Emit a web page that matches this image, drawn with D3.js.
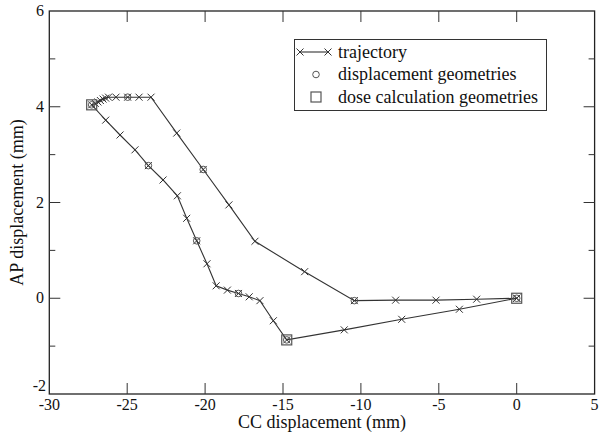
<!DOCTYPE html>
<html>
<head>
<meta charset="utf-8">
<script src="https://cdn.jsdelivr.net/npm/d3@7"></script>
<style>
  body { margin: 0; background: #fff; }
  svg text { font-family: "Liberation Serif", "Times New Roman", Times, "DejaVu Serif", serif; }
</style>
</head>
<body>
<svg id="chart" width="599" height="432"></svg>
<script>
// trajectory (CC, AP) in mm, closed loop starting at origin
const trajCC = [0, -3.68, -7.38, -11.07, -14.76, -15.62, -16.48, -17.17, -17.86, -18.57, -19.29,
  -19.88, -20.54, -21.18, -21.78, -22.70, -23.64, -24.50, -25.46, -26.38, -27.28,
  -27.05, -26.88, -26.72, -26.55, -26.38, -26.20, -25.72, -24.97, -24.24, -23.47,
  -21.82, -20.12, -18.47, -16.80, -13.61, -10.42, -7.77, -5.18, -2.57, 0];
const trajAP = [0, -0.23, -0.44, -0.66, -0.87, -0.47, -0.05, 0.03, 0.10, 0.17, 0.26,
  0.72, 1.20, 1.67, 2.14, 2.47, 2.77, 3.10, 3.41, 3.72, 4.04,
  4.07, 4.10, 4.13, 4.16, 4.18, 4.20, 4.20, 4.20, 4.20, 4.20,
  3.45, 2.69, 1.95, 1.19, 0.555, -0.05, -0.04, -0.04, -0.02, 0];

// displacement geometries (circles)
const dispCC = [0, -10.42, -14.76, -17.86, -20.54, -23.64, -27.28, -24.97, -20.12];
const dispAP = [0, -0.05, -0.87, 0.10, 1.20, 2.77, 4.04, 4.20, 2.69];

// dose calculation geometries (squares)
const doseCC = [0, -14.76, -27.28];
const doseAP = [0, -0.87, 4.04];

const xTicks = [-30, -25, -20, -15, -10, -5, 0, 5];
const yTicks = [-2, 0, 2, 4, 6];
const yMinor = [-1, 1, 3, 5];
const legendLabels = ["trajectory", "displacement geometries", "dose calculation geometries"];

const svg = d3.select("#chart");
const ink = "#333";
const serif = "'Liberation Serif', 'Times New Roman', Times, 'DejaVu Serif', serif";

const x = d3.scaleLinear().domain([-30, 5]).range([49.3, 594.6]);
const y = d3.scaleLinear().domain([-2, 6]).range([394, 11]);

const pLeft = x(-30), pRight = x(5), pTop = y(6), pBottom = y(-2);

// frame
svg.append("rect")
  .attr("x", pLeft).attr("y", pTop)
  .attr("width", pRight - pLeft).attr("height", pBottom - pTop)
  .attr("fill", "none").attr("stroke", "#222").attr("stroke-width", 1.3);

// ticks, pointing inward on all four sides
const tickG = svg.append("g").attr("stroke", "#333").attr("stroke-width", 1);
xTicks.slice(1, -1).forEach(v => {
  tickG.append("line").attr("x1", x(v)).attr("x2", x(v)).attr("y1", pBottom).attr("y2", pBottom - 11);
  tickG.append("line").attr("x1", x(v)).attr("x2", x(v)).attr("y1", pTop).attr("y2", pTop + 11);
});
yTicks.slice(1, -1).forEach(v => {
  tickG.append("line").attr("y1", y(v)).attr("y2", y(v)).attr("x1", pLeft).attr("x2", pLeft + 11);
  tickG.append("line").attr("y1", y(v)).attr("y2", y(v)).attr("x1", pRight).attr("x2", pRight - 11);
});
yMinor.forEach(v => {
  tickG.append("line").attr("y1", y(v)).attr("y2", y(v)).attr("x1", pLeft).attr("x2", pLeft + 6);
  tickG.append("line").attr("y1", y(v)).attr("y2", y(v)).attr("x1", pRight).attr("x2", pRight - 6);
});

// tick labels
svg.append("g").selectAll("text").data(xTicks).join("text")
  .attr("x", d => x(d)).attr("y", 410)
  .attr("text-anchor", "middle").attr("font-size", 16).attr("fill", "#111")
  .attr("font-family", serif)
  .text(d => d);
svg.append("g").selectAll("text").data(yTicks).join("text")
  .attr("x", d => d === -2 ? 46 : 44).attr("y", d => d === -2 ? 391 : y(d) + 5)
  .attr("text-anchor", "end").attr("font-size", 16).attr("fill", "#111")
  .attr("font-family", serif)
  .text(d => d);

// axis titles
svg.append("text")
  .attr("x", (pLeft + pRight) / 2).attr("y", 428)
  .attr("text-anchor", "middle").attr("font-size", 18).attr("fill", "#111")
  .attr("font-family", serif)
  .text("CC displacement (mm)");
svg.append("text")
  .attr("transform", `translate(23,${(pTop + pBottom) / 2}) rotate(-90)`)
  .attr("text-anchor", "middle").attr("font-size", 18).attr("fill", "#111")
  .attr("font-family", serif)
  .text("AP displacement (mm)");

// trajectory line
const traj = trajCC.map((c, i) => [c, trajAP[i]]);
const line = d3.line().x(d => x(d[0])).y(d => y(d[1]));
svg.append("path")
  .attr("d", line(traj))
  .attr("fill", "none").attr("stroke", ink).attr("stroke-width", 1.1);

const cross = (g, cx, cy, r) => {
  g.append("path")
    .attr("d", `M${cx - r},${cy - r}L${cx + r},${cy + r}M${cx - r},${cy + r}L${cx + r},${cy - r}`)
    .attr("stroke", ink).attr("stroke-width", 1).attr("fill", "none");
};

const marks = svg.append("g");
traj.forEach(d => cross(marks, x(d[0]), y(d[1]), 3.5));

// displacement geometries
svg.append("g").selectAll("circle").data(dispCC).join("circle")
  .attr("cx", d => x(d)).attr("cy", (d, i) => y(dispAP[i]))
  .attr("r", 3.3).attr("fill", "none").attr("stroke", "#555").attr("stroke-width", 1);

// dose calculation geometries
svg.append("g").selectAll("rect").data(doseCC).join("rect")
  .attr("x", d => x(d) - 5).attr("y", (d, i) => y(doseAP[i]) - 5)
  .attr("width", 10).attr("height", 10)
  .attr("fill", "none").attr("stroke", "#555").attr("stroke-width", 1.2);

// legend
const lg = svg.append("g");
lg.append("rect")
  .attr("x", 294.5).attr("y", 39.5).attr("width", 252).attr("height", 71)
  .attr("fill", "#fff").attr("stroke", "#333").attr("stroke-width", 1);
const rowY = [52, 74.5, 97];
lg.append("line").attr("x1", 300).attr("x2", 328).attr("y1", rowY[0]).attr("y2", rowY[0])
  .attr("stroke", ink).attr("stroke-width", 1.1);
cross(lg, 300, rowY[0], 3.5);
cross(lg, 328, rowY[0], 3.5);
lg.append("circle").attr("cx", 316).attr("cy", rowY[1]).attr("r", 3.3)
  .attr("fill", "none").attr("stroke", "#555").attr("stroke-width", 1);
lg.append("rect").attr("x", 311).attr("y", rowY[2] - 5).attr("width", 10).attr("height", 10)
  .attr("fill", "none").attr("stroke", "#555").attr("stroke-width", 1.2);
lg.selectAll("text.lab").data(legendLabels).join("text")
  .attr("class", "lab")
  .attr("x", 338).attr("y", (d, i) => rowY[i] + 5.5)
  .attr("font-size", 18).attr("fill", "#111")
  .attr("font-family", serif)
  .text(d => d);
</script>
</body>
</html>
